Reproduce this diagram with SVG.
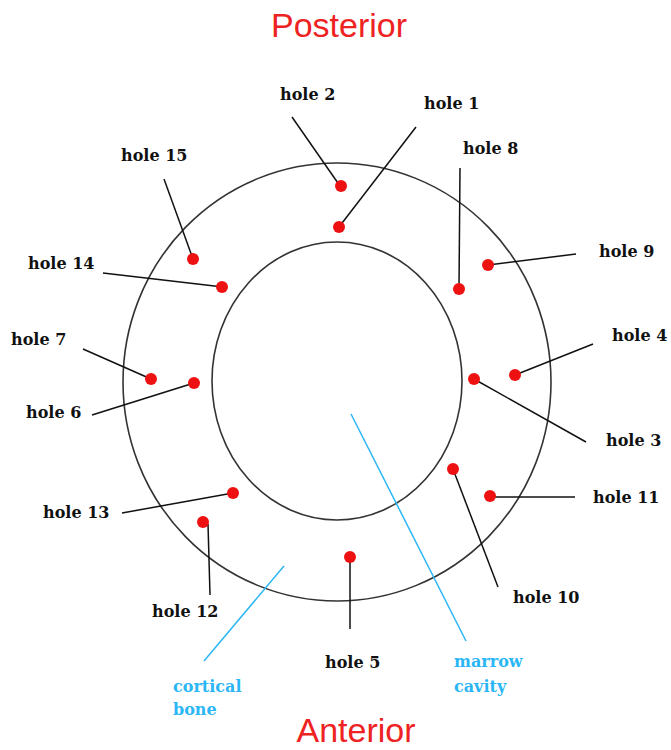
<svg xmlns="http://www.w3.org/2000/svg" width="671" height="750" viewBox="0 0 671 750">
<style>
.bg{fill:#fff}
.ring{fill:none;stroke:#333;stroke-width:1.6}
.lead{stroke:#111;stroke-width:1.5;fill:none}
.blue{stroke:#2bb6f5;stroke-width:1.5;fill:none}
.dot{fill:#ee1111}
.lbl{font-family:"DejaVu Serif","Liberation Serif",serif;font-weight:bold;font-size:16px;fill:#111}
.blbl{font-family:"DejaVu Serif","Liberation Serif",serif;font-weight:bold;font-size:16px;fill:#2bb6f5}
.dir{font-family:"Liberation Sans",Arial,sans-serif;font-size:34px;fill:#ee2222}
</style>
<rect class="bg" x="0" y="0" width="671" height="750"/>
<g id="bone">
<ellipse class="ring" cx="337" cy="382" rx="214" ry="219"/>
<ellipse class="ring" cx="337" cy="381" rx="125" ry="139"/>
</g>
<g id="connectors">
<line class="lead" x1="292" y1="117" x2="340" y2="186"/>
<line class="lead" x1="416" y1="127" x2="339" y2="227"/>
<line class="lead" x1="460" y1="168" x2="459" y2="288"/>
<line class="lead" x1="164" y1="179" x2="193" y2="259"/>
<line class="lead" x1="103" y1="273" x2="223" y2="287"/>
<line class="lead" x1="576" y1="254" x2="488" y2="265"/>
<line class="lead" x1="83" y1="349" x2="151" y2="379"/>
<line class="lead" x1="92" y1="415" x2="194" y2="383"/>
<line class="lead" x1="593" y1="344" x2="515" y2="375"/>
<line class="lead" x1="586" y1="442" x2="474" y2="379"/>
<line class="lead" x1="498" y1="587" x2="453" y2="469"/>
<line class="lead" x1="575" y1="497" x2="490" y2="497"/>
<line class="lead" x1="122" y1="513" x2="233" y2="493"/>
<line class="lead" x1="210" y1="595" x2="208" y2="524"/>
<line class="lead" x1="350" y1="629" x2="350" y2="557"/>
<line class="blue" x1="284" y1="566" x2="204" y2="661"/>
<line class="blue" x1="351" y1="414" x2="466" y2="641"/>
</g>
<g id="hole1"><circle class="dot" cx="339" cy="227" r="6"/><text class="lbl" x="424" y="109">hole 1</text></g>
<g id="hole2"><circle class="dot" cx="341" cy="186" r="6"/><text class="lbl" x="280" y="100">hole 2</text></g>
<g id="hole3"><circle class="dot" cx="474" cy="379" r="6"/><text class="lbl" x="606" y="446">hole 3</text></g>
<g id="hole4"><circle class="dot" cx="515" cy="375" r="6"/><text class="lbl" x="612" y="341">hole 4</text></g>
<g id="hole5"><circle class="dot" cx="350" cy="557" r="6"/><text class="lbl" x="325" y="668">hole 5</text></g>
<g id="hole6"><circle class="dot" cx="194" cy="383" r="6"/><text class="lbl" x="26" y="418">hole 6</text></g>
<g id="hole7"><circle class="dot" cx="151" cy="379" r="6"/><text class="lbl" x="11" y="345">hole 7</text></g>
<g id="hole8"><circle class="dot" cx="459" cy="289" r="6"/><text class="lbl" x="463" y="154">hole 8</text></g>
<g id="hole9"><circle class="dot" cx="488" cy="265" r="6"/><text class="lbl" x="599" y="257">hole 9</text></g>
<g id="hole10"><circle class="dot" cx="453" cy="469" r="6"/><text class="lbl" x="513" y="603">hole 10</text></g>
<g id="hole11"><circle class="dot" cx="490" cy="496" r="6"/><text class="lbl" x="593" y="503">hole 11</text></g>
<g id="hole12"><circle class="dot" cx="203" cy="522" r="6"/><text class="lbl" x="152" y="617">hole 12</text></g>
<g id="hole13"><circle class="dot" cx="233" cy="493" r="6"/><text class="lbl" x="43" y="518">hole 13</text></g>
<g id="hole14"><circle class="dot" cx="222" cy="287" r="6"/><text class="lbl" x="28" y="269">hole 14</text></g>
<g id="hole15"><circle class="dot" cx="193" cy="259" r="6"/><text class="lbl" x="121" y="161">hole 15</text></g>
<g id="cortical-bone"><text class="blbl" x="173" y="692">cortical</text><text class="blbl" x="173" y="715">bone</text></g>
<g id="marrow-cavity"><text class="blbl" x="454" y="667">marrow</text><text class="blbl" x="454" y="692">cavity</text></g>
<g id="posterior"><text class="dir" x="339" y="37" text-anchor="middle">Posterior</text></g>
<g id="anterior"><text class="dir" x="356" y="742" text-anchor="middle">Anterior</text></g>
</svg>
